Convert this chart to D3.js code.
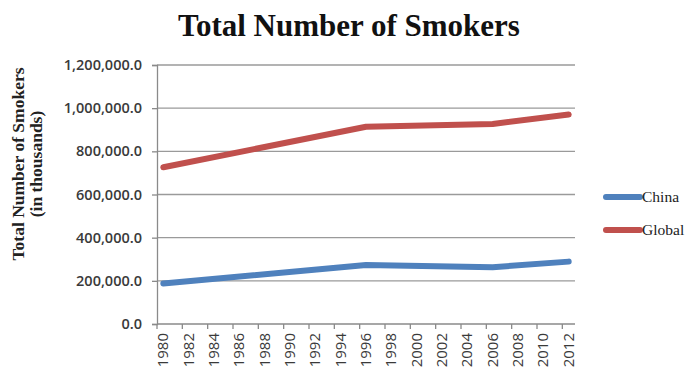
<!DOCTYPE html>
<html lang="en">
<head>
    <meta charset="UTF-8">
    <title>Total Number of Smokers</title>
    <script src="https://d3js.org/d3.v7.min.js"></script>
    <style>
        body { margin: 0; background: #fff; }
    </style>
</head>
<body>
    <div id="chart"></div>

    <script>
        // every year is a category on the axis, only some years carry data
        const years = d3.range(1980, 2013);
        const labelYears = years.filter(y => y % 2 === 0);
        const dataYears = [1980, 1996, 2006, 2012];
        const china = [188000, 273000, 263000, 289000];
        const global = [726000, 914000, 927000, 971000];
        const yTicks = [0, 200000, 400000, 600000, 800000, 1000000, 1200000];
        const seriesNames = ["China", "Global"];
        const colors = ["#4f81bd", "#c0504d"];

        const width = 700, height = 374;
        const margin = { top: 65, right: 125, bottom: 50, left: 157 };
        const plotW = width - margin.left - margin.right;
        const plotH = height - margin.top - margin.bottom;

        const svg = d3.select("#chart")
            .append("svg")
            .attr("width", width)
            .attr("height", height);

        svg.append("text")
            .attr("x", 349)
            .attr("y", 36)
            .attr("text-anchor", "middle")
            .style("font-family", "'Liberation Serif', serif")
            .style("font-weight", "bold")
            .style("font-size", "31px")
            .attr("fill", "#111")
            .text("Total Number of Smokers");

        const g = svg.append("g")
            .attr("transform", `translate(${margin.left},${margin.top})`);

        const x = d3.scaleBand()
            .domain(years)
            .range([0, plotW]);

        const y = d3.scaleLinear()
            .domain([0, 1200000])
            .range([plotH, 0]);

        // gridlines
        g.append("g")
            .selectAll("line")
            .data(yTicks.slice(1))
            .join("line")
            .attr("x1", 0)
            .attr("x2", plotW)
            .attr("y1", d => y(d))
            .attr("y2", d => y(d))
            .attr("stroke", "#9a9a9a")
            .attr("stroke-width", 1.3);

        // y axis
        const yAxis = g.append("g")
            .call(d3.axisLeft(y)
                .tickValues(yTicks)
                .tickFormat(d3.format(",.1f"))
                .tickSize(5)
                .tickPadding(10));
        yAxis.select(".domain").attr("stroke", "#8a8a8a").attr("stroke-width", 1.3);
        yAxis.selectAll(".tick line").attr("stroke", "#8a8a8a").attr("stroke-width", 1.3);
        yAxis.selectAll(".tick text")
            .style("font-family", "'Open Sans', sans-serif")
            .style("font-size", "14.5px")
            .style("font-weight", "600")
            .attr("fill", "#3a3a3a");

        // x axis: tick marks on category boundaries every 2 years
        const xAxisG = g.append("g")
            .attr("transform", `translate(0,${plotH})`);
        xAxisG.append("line")
            .attr("x1", 0)
            .attr("x2", plotW)
            .attr("stroke", "#8a8a8a")
            .attr("stroke-width", 1.3);
        xAxisG.selectAll("line.tk")
            .data(labelYears)
            .join("line")
            .attr("class", "tk")
            .attr("x1", d => x(d))
            .attr("x2", d => x(d))
            .attr("y1", 0)
            .attr("y2", 5)
            .attr("stroke", "#8a8a8a")
            .attr("stroke-width", 1.3);
        xAxisG.selectAll("text")
            .data(labelYears)
            .join("text")
            .attr("transform", d => `translate(${x(d) + x.bandwidth() / 2 + 5},9) rotate(-90)`)
            .attr("text-anchor", "end")
            .style("font-family", "'Open Sans', sans-serif")
            .style("font-size", "15px")
            .attr("fill", "#3a3a3a")
            .text(d => d);

        // y axis title
        const yTitle = svg.append("text")
            .attr("transform", "translate(0,164) rotate(-90)")
            .attr("text-anchor", "middle")
            .style("font-family", "'Liberation Serif', serif")
            .style("font-weight", "bold")
            .style("font-size", "17.5px")
            .attr("fill", "#222");
        yTitle.append("tspan").attr("x", 0).attr("y", 24).text("Total Number of Smokers");
        yTitle.append("tspan").attr("x", 0).attr("y", 42).text("(in thousands)");

        // lines
        const line = d3.line()
            .x(d => x(d[0]) + x.bandwidth() / 2)
            .y(d => y(d[1]));

        [china, global].forEach((vals, i) => {
            g.append("path")
                .datum(dataYears.map((yr, j) => [yr, vals[j]]))
                .attr("fill", "none")
                .attr("stroke", colors[i])
                .attr("stroke-width", 6)
                .attr("stroke-linecap", "round")
                .attr("stroke-linejoin", "round")
                .attr("d", line);
        });

        // legend
        const legend = svg.append("g")
            .attr("transform", "translate(606,197)");
        seriesNames.forEach((name, i) => {
            const row = legend.append("g").attr("transform", `translate(0,${i * 33})`);
            row.append("line")
                .attr("x1", 0)
                .attr("x2", 34)
                .attr("stroke", colors[i])
                .attr("stroke-width", 6)
                .attr("stroke-linecap", "round");
            row.append("text")
                .attr("x", 36)
                .attr("y", 5)
                .style("font-family", "'Liberation Serif', serif")
                .style("font-size", "15.5px")
                .attr("fill", "#222")
                .text(name);
        });
    </script>
</body>
</html>
